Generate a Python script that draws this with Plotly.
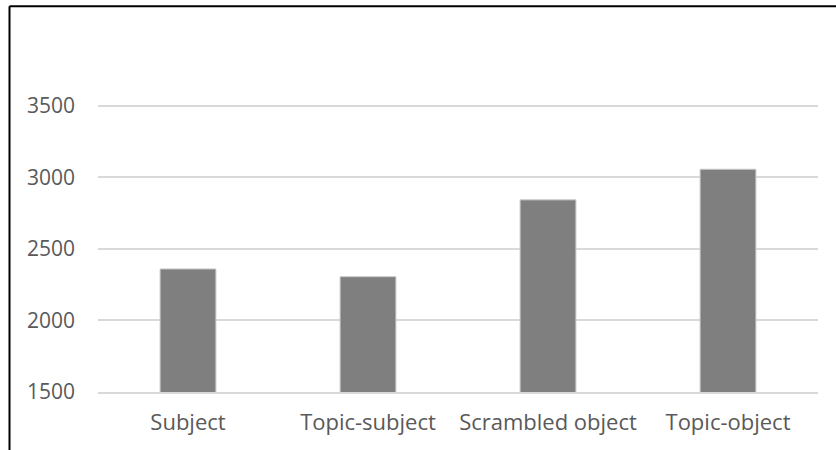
import plotly.graph_objects as go

categories = ["Subject", "Topic-subject", "Scrambled object", "Topic-object"]
values = [2360, 2306, 2843, 3057]
y_ticks = [1500, 2000, 2500, 3000, 3500]
y_range = [1500, 3520]

W, H = 836, 450
scale = (392 - 106) / (3500 - 1500)
L, R, B = 98, 18, 58
T = 106 - (y_range[1] - 3500) * scale
pw, ph = W - L - R, H - T - B

def px_x(x):
    return (x - L) / pw

def px_y(y):
    return 1 + (T - y) / ph

fig = go.Figure(go.Bar(
    x=categories, y=values, width=0.31,
    marker=dict(color="#7f7f7f", line=dict(color="#c8c8c8", width=1)),
))

fig.update_layout(
    width=W, height=H,
    margin=dict(l=L, r=R, t=T, b=B),
    plot_bgcolor="white", paper_bgcolor="white",
    font=dict(family="Open Sans", size=20, color="#595959"),
    showlegend=False,
    xaxis=dict(showgrid=False, showline=True, linecolor="#d9d9d9", linewidth=1.5,
               ticks="", ticklabelstandoff=10, tickfont=dict(size=22)),
    yaxis=dict(range=y_range, tickvals=y_ticks, showgrid=True,
               gridcolor="#d9d9d9", gridwidth=1.5, zeroline=False, showline=False,
               ticks="", ticklabelstandoff=22, tickfont=dict(size=21)),
    shapes=[
        dict(type="line", xref="paper", yref="paper",
             x0=px_x(9.5), x1=px_x(9.5), y0=px_y(6.5), y1=px_y(460),
             line=dict(color="black", width=2)),
        dict(type="line", xref="paper", yref="paper",
             x0=px_x(9.5), x1=px_x(846), y0=px_y(6.5), y1=px_y(6.5),
             line=dict(color="black", width=2)),
    ],
)

fig.write_html("out.html", config={"displayModeBar": False},
               post_script="document.body.style.margin='0';")
